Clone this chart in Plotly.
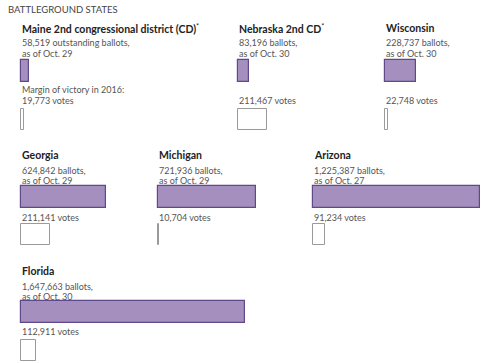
import plotly.graph_objects as go

# ---- data ----
states = ["Maine 2nd congressional district (CD)", "Nebraska 2nd CD", "Wisconsin",
          "Georgia", "Michigan", "Arizona", "Florida"]
starred = [True, True, False, False, False, False, False]
ballots = [58519, 83196, 228737, 624842, 721936, 1225387, 1647663]
as_of = ["Oct. 29", "Oct. 30", "Oct. 30", "Oct. 29", "Oct. 29", "Oct. 27", "Oct. 30"]
margins = [19773, 211467, 22748, 211141, 10704, 91234, 112911]
header = "BATTLEGROUND STATES"

# ---- layout (pixel positions) ----
W, H = 500, 363
SCALE = 1.36e-4  # px per ballot/vote
PAD = 3          # px of room around marks so outlines are not clipped
panel_x = [21, 238, 385, 21, 158, 313, 21]
panel_row = [0, 0, 0, 1, 1, 1, 2]
rows = [  # title_y, bar_top, votes_label_y, box_top
    dict(title=28, bar=60, vlab=100, box=108),
    dict(title=155, bar=186, vlab=217, box=223),
    dict(title=271, bar=301, vlab=331, box=339),
]
BAR_H = 22
FONT = "Lato"

def px(x):
    return x / W

def py(y):
    return 1 - y / H

fig = go.Figure()
annotations = []
layout_axes = {}

annotations.append(dict(text=header, x=px(6), y=py(9.5), xref="paper", yref="paper",
                        xanchor="left", yanchor="middle", showarrow=False,
                        font=dict(family=FONT, size=9.5, color="#444")))

for i, name in enumerate(states):
    r = rows[panel_row[i]]
    x0 = panel_x[i]
    n = i + 1
    xa = "x" if n == 1 else f"x{n}"
    ya = "y" if n == 1 else f"y{n}"
    span = W - x0
    bottom = r["box"] + BAR_H
    h = bottom - r["bar"]
    layout_axes["xaxis" if n == 1 else f"xaxis{n}"] = dict(
        domain=[px(x0 - PAD), 1], range=[-PAD / SCALE, span / SCALE], anchor=ya,
        visible=False, fixedrange=True)
    layout_axes["yaxis" if n == 1 else f"yaxis{n}"] = dict(
        domain=[max(0, py(bottom + PAD)), py(r["bar"] - PAD)],
        range=[h + min(PAD, H - bottom), -PAD], anchor=xa,
        visible=False, fixedrange=True)

    # ballots bar
    fig.add_trace(go.Bar(
        x=[ballots[i]], y=[BAR_H / 2], base=0, width=[BAR_H], orientation="h",
        xaxis=xa, yaxis=ya, cliponaxis=False,
        marker=dict(color="#a48fbe", line=dict(color="#5e4a8a", width=1.2)),
        hoverinfo="skip", showlegend=False))
    # margin box
    fig.add_trace(go.Bar(
        x=[margins[i]], y=[r["box"] - r["bar"] + BAR_H / 2], base=0, width=[BAR_H - 1],
        orientation="h", xaxis=xa, yaxis=ya, cliponaxis=False,
        marker=dict(color="white", line=dict(color="#9a9a9a", width=1)),
        hoverinfo="skip", showlegend=False))

    title = f"<b>{name}</b>" + ("<sup>*</sup>" if starred[i] else "")
    annotations.append(dict(text=title, x=px(x0 - 1), y=py(r["title"]), xref="paper", yref="paper",
                            xanchor="left", yanchor="middle", showarrow=False,
                            font=dict(family=FONT, size=10.5, color="#222")))
    word = "outstanding ballots," if i == 0 else "ballots,"
    annotations.append(dict(text=f"{ballots[i]:,} {word}", x=px(x0 - 1), y=py(r["title"] + 15),
                            xref="paper", yref="paper", xanchor="left", yanchor="middle",
                            showarrow=False, font=dict(family=FONT, size=9, color="#555")))
    annotations.append(dict(text=f"as of {as_of[i]}", x=px(x0 - 1), y=py(r["title"] + 25),
                            xref="paper", yref="paper", xanchor="left", yanchor="middle",
                            showarrow=False, font=dict(family=FONT, size=9, color="#555")))
    if i == 0:
        annotations.append(dict(text="Margin of victory in 2016:", x=px(x0 - 1), y=py(r["vlab"] - 11),
                                xref="paper", yref="paper", xanchor="left", yanchor="middle",
                                showarrow=False, font=dict(family=FONT, size=9, color="#555")))
    annotations.append(dict(text=f"{margins[i]:,} votes", x=px(x0 - 1), y=py(r["vlab"]),
                            xref="paper", yref="paper", xanchor="left", yanchor="middle",
                            showarrow=False, font=dict(family=FONT, size=9, color="#555")))

fig.update_layout(width=W, height=H, margin=dict(l=0, r=0, t=0, b=0),
                  paper_bgcolor="white", plot_bgcolor="rgba(0,0,0,0)",
                  annotations=annotations, barmode="overlay", bargap=0, **layout_axes)

fig.write_html("out.html", config={"displayModeBar": False},
               post_script="document.body.style.margin='0';")
